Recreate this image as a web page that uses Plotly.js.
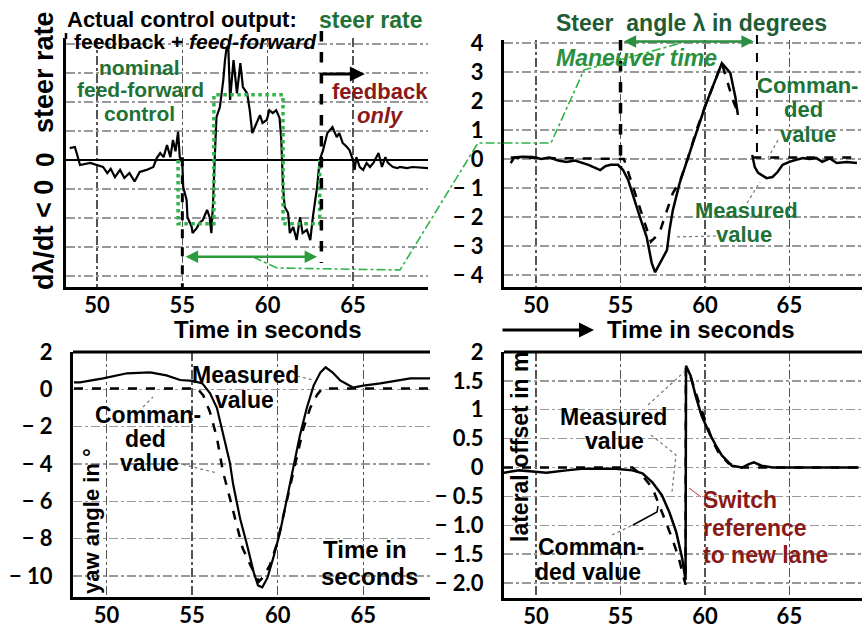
<!DOCTYPE html>
<html><head><meta charset="utf-8">
<script src="https://cdn.plot.ly/plotly-3.0.1.min.js"></script>
<style>html,body{margin:0;padding:0;background:#fff;}#chart{width:862px;height:628px;}</style>
</head><body><div id="chart"></div>
<script>
// ---------- DATA ----------
// Panel 1: steer rate (actual control output) and nominal feed-forward
const t1 = [48.4,48.7,48.85,49.0,49.6,50.0,50.35,50.6,50.8,51.05,51.35,51.6,51.9,52.2,52.5,52.9,53.3,53.5,53.7,53.9,54.1,54.3,54.45,54.6,54.75,54.85,55.0,55.05,55.25,55.3,55.55,55.6,55.85,56.0,56.2,56.45,56.6,56.7,56.8,56.9,57.0,57.2,57.4,57.5,57.6,57.7,57.8,58.0,58.2,58.4,58.55,58.8,58.95,59.1,59.4,59.55,59.7,59.95,60.1,60.3,60.5,60.7,60.8,60.9,61.0,61.2,61.3,61.5,61.7,61.9,62.05,62.3,62.5,62.65,62.9,63.05,63.25,63.5,63.8,64.05,64.2,64.4,64.65,64.8,65.0,65.1,65.2,65.4,65.6,65.8,66.0,66.2,66.5,66.7,66.9,67.05,67.35,67.6,67.75,68.15,68.5,69.0,69.4];
const steerRate = [0.41,0.45,0.15,-0.17,-0.1,-0.17,-0.24,-0.45,-0.3,-0.59,-0.34,-0.62,-0.45,-0.74,-0.41,-0.34,-0.24,0.07,0.24,0.1,0.52,0.1,0.69,0.3,0.97,0.1,-0.1,-0.93,-1.38,-1.97,-2.31,-2.52,-2.34,-2.17,-2.07,-1.72,-1.97,-2.52,-1.48,0.1,1.48,1.83,2.76,3.45,3.9,3.8,2.07,3.45,2.3,3.34,2.52,2.3,1.72,0.93,1.38,1.55,1.28,1.38,1.72,1.62,1.72,1.45,0.69,-0.93,-1.62,-1.83,-2.52,-2.31,-2.76,-1.97,-2.52,-2.41,-2.76,-1.97,-0.93,0,0.34,0.93,1.14,0.79,0.93,0.59,0.45,0.34,0,-0.34,0.1,-0.24,-0.34,-0.1,-0.24,-0.1,0.24,-0.24,0.1,-0.1,-0.24,-0.28,-0.24,-0.28,-0.24,-0.26,-0.28];
const tFF = [54.75,54.75,56.85,56.85,60.9,60.9,63.05,63.05];
const ffRate = [0,-2.2,-2.2,2.25,2.25,-2.2,-2.2,0];

// Panel 2: steer angle (degrees)
const t2m = [48.5,48.7,49.2,49.8,50.3,50.8,51.3,51.8,52.3,52.8,53.1,53.4,53.8,54.1,54.4,54.85,55.15,55.45,55.75,56.15,56.55,56.85,57.05,57.35,57.75,57.9,58.1,58.5,59.0,59.5,60.0,60.5,61.0,61.5,61.8,61.95,null,62.8,62.95,63.15,63.65,64.0,64.3,64.6,65.0,65.4,65.8,66.2,66.6,66.95,67.4,67.8,68.4,69.0];
const steerMeas = [-0.14,0.05,0.08,0.07,0.0,0.05,-0.05,-0.1,-0.05,-0.14,-0.2,-0.28,-0.38,-0.25,-0.2,-0.2,-0.38,-0.72,-1.3,-2.0,-2.69,-3.59,-3.9,-3.59,-3.14,-2.45,-1.76,-0.83,0.05,1.0,1.8,2.55,3.3,2.97,2.14,1.52,null,0.14,-0.28,-0.48,-0.66,-0.62,-0.45,-0.2,-0.1,-0.03,0.03,0.0,0.03,-0.1,0.02,-0.14,-0.1,-0.14];
const t2c = [48.5,55.2,56.8,57.3,58.1,58.5,59.0,59.5,60.0,60.5,61.0,61.3,61.65,61.85,null,62.8,69.0];
const steerCmd = [0.05,0.0,-2.85,-2.55,-1.17,-0.8,0.05,1.0,1.8,2.55,3.3,2.72,2.03,1.75,null,0.05,0.05];

// Panel 3: yaw angle (degrees)
const t3m = [48.1,48.45,49.8,51.2,52.55,53.5,54.3,55.05,55.6,56.05,56.45,56.8,57.2,57.4,57.8,58.2,58.6,58.85,59.1,59.4,59.75,60.15,60.55,60.9,61.3,61.7,62.1,62.5,62.8,63.2,63.65,64.4,65.0,66.0,67.15,67.75,68.9];
const yawMeas = [0.37,0.37,0.59,0.86,0.91,0.75,0.5,0.45,0.32,-0.21,-1.0,-2.3,-3.9,-5.1,-6.9,-8.3,-9.8,-10.5,-10.6,-10.1,-9.0,-7.6,-5.8,-4.1,-2.46,-1.0,0.2,0.91,1.18,0.91,0.48,0.1,0.2,0.32,0.48,0.59,0.59];
const t3c = [48.1,55.3,55.65,56.05,56.45,56.8,57.2,57.6,57.95,58.4,58.9,59.2,59.55,59.95,60.3,60.75,61.15,61.5,61.9,62.3,62.6,68.9];
const yawCmd = [0.05,0.05,-0.32,-1.23,-2.6,-4.4,-5.8,-7.3,-8.5,-9.4,-10.3,-10.0,-9.4,-8.3,-6.9,-5.1,-3.5,-2.1,-1.0,-0.3,0.05,0.05];

// Panel 4: lateral offset (m)
const t4m = [48.1,49.0,49.8,50.6,51.8,52.7,54.7,55.7,56.3,56.9,57.45,57.9,58.3,58.65,58.85,58.88,59.15,59.45,59.8,60.25,60.65,61.0,61.6,62.2,62.6,62.9,63.35,64.0,66.0,69.1];
const latMeas = [-0.09,-0.05,-0.07,-0.09,-0.05,-0.02,-0.02,-0.05,-0.1,-0.26,-0.48,-0.78,-1.12,-1.57,-1.95,1.76,1.59,1.24,0.9,0.6,0.38,0.21,0.03,0.0,0.06,0.09,0.03,0.0,0.0,0.0];
const t4c = [48.1,55.7,56.3,56.9,57.3,57.7,58.05,58.45,58.75,58.85,58.87,59.2,59.65,60.05,60.4,60.8,61.4,62.0,69.1];
const latCmd = [0.0,0.0,-0.14,-0.36,-0.66,-0.95,-1.22,-1.57,-1.91,-2.03,1.72,1.53,1.12,0.78,0.5,0.26,0.07,0.0,0.0];

// Tick labels
const xTicks = [50,55,60,65];
const xTickText = ['50','55','60','65'];
const y2Ticks = [4,3,2,1,0,-1,-2,-3,-4];
const y2Text = ['4','3','2','1','0','− 1','− 2','− 3','− 4'];
const y3Ticks = [2,0,-2,-4,-6,-8,-10];
const y3Text = ['2','0','− 2','− 4','− 6','− 8','− 10'];
const y4Ticks = [2,1.5,1,0.5,0,-0.5,-1,-1.5,-2];
const y4Text = ['2','1.5','1','0.5','0','− 0.5','− 1.0','− 1.5','− 2.0'];

// ---------- LAYOUT HELPERS ----------
const W = 862, H = 628;
const px = v => v / W, py = v => 1 - v / H;
const FONT = 'Liberation Sans, Arial, sans-serif';
const GREEN_T = '#1f7236', GREEN_L = '#2fb34a', RED_T = '#8a1a1a';
const bold = s => '<b>' + s + '</b>';

function tickFont(){ return {family:'Lato, sans-serif', size:22, color:'#000'}; }
function xAx(dom, rng, anchor){
  return {domain:dom, range:rng, anchor:anchor, tickvals:xTicks, ticktext:xTickText.map(bold),
    showline:true, linecolor:'#000', linewidth:3, showgrid:true, gridcolor:'#555', griddash:'dashdot', gridwidth:1.5,
    zeroline:false, ticks:'', ticklabelstandoff:-3, tickfont:tickFont(), fixedrange:true};
}
function yAx(dom, rng, anchor, vals, text){
  return {domain:dom, range:rng, anchor:anchor, tickvals:vals, ticktext:text ? text.map(bold) : undefined,
    showticklabels: !!text, showline:true, linecolor:'#000', linewidth:3, showgrid:true, gridcolor:'#9a9a9a',
    griddash:'dashdot', gridwidth:1.3, zeroline:false, ticks:'', ticklabelstandoff:13,
    tickfont:tickFont(), fixedrange:true};
}

const annotations = [];
function txt(text, x, y, opt){
  opt = opt || {};
  annotations.push({xref:'paper', yref:'paper', x:px(x), y:py(y), text:text, showarrow:false,
    xanchor: opt.xa || 'center', yanchor:'middle', textangle: opt.angle || 0,
    font:{family:FONT, size:opt.size || 22, color:opt.color || '#000'}});
}
function arrowData(xref, yref, x0, y0, x1, y1, color, width, both){
  annotations.push({xref:xref, yref:yref, axref:xref, ayref:yref, x:x1, y:y1, ax:x0, ay:y0, text:'',
    showarrow:true, arrowhead:2, arrowsize:1, arrowwidth:width, arrowcolor:color,
    arrowside: both ? 'end+start' : 'end', standoff:0, startstandoff:0});
}

const shapes = [];
function pline(pts, color, width, dash){
  let d = pts.map((p,i) => (i ? 'L' : 'M') + px(p[0]).toFixed(5) + ',' + py(p[1]).toFixed(5)).join(' ');
  shapes.push({type:'path', xref:'paper', yref:'paper', path:d, line:{color:color, width:width, dash:dash || 'solid'}, layer:'above'});
}
function vline(xref, yref, x, y0, y1, width, dash){
  shapes.push({type:'line', xref:xref, yref:yref, x0:x, x1:x, y0:y0, y1:y1, line:{color:'#000', width:width, dash:dash}});
}

// ---------- Panel 1 text ----------
txt(bold('Actual control output:'), 65, 20, {xa:'left'});
txt(bold('steer rate'), 317, 20, {xa:'left', color:GREEN_T, size:23});
txt(bold('feedback + <i>feed-forward</i>'), 72, 41, {xa:'left', size:21});
txt(bold('nominal'), 139, 67, {color:GREEN_T, size:21});
txt(bold('feed-forward'), 140, 90, {color:GREEN_T, size:21});
txt(bold('control'), 139, 113, {color:GREEN_T, size:21});
txt(bold('feedback'), 380, 91, {color:RED_T});
txt(bold('<i>only</i>'), 380, 115, {color:RED_T});
txt(bold('steer rate'), 44, 72, {angle:-90, size:27});
txt(bold('0'), 45, 160, {angle:-90, size:26});
txt(bold('dλ/dt < 0'), 44, 235, {angle:-90, size:27});
txt(bold('Time in seconds'), 268, 329, {size:24});
arrowData('x','y', 55.1, -3.34, 62.9, -3.34, '#2a9d3a', 2.5, true);
arrowData('x','y', 63.15, 2.97, 65.7, 2.97, '#000', 3, false);
vline('x','y', 55.0, 0.1, -4.38, 3, 'dash');
vline('x','paper', 63.15, py(31), py(263), 3.5, 'dash');
pline([[66,39],[66,33]], '#000', 2.5, 'solid');

// ---------- Panel 2 text ----------
txt(bold('Steer\u00a0\u00a0angle λ in degrees'), 691, 23, {color:'#1f5c34', size:23});
txt(bold('<i>Maneuver time</i>'), 636, 58, {color:'#2a8f3e', size:23});
txt(bold('Comman-'), 807, 86, {color:GREEN_T});
txt(bold('ded'), 803, 110, {color:GREEN_T});
txt(bold('value'), 808, 134, {color:GREEN_T});
txt(bold('Measured'), 746, 210, {color:GREEN_T});
txt(bold('value'), 744, 235, {color:GREEN_T});
txt(bold('Time in seconds'), 701, 329, {size:24});
arrowData('x2','y2', 55.1, 4.05, 62.9, 4.05, '#2a8f3e', 2.5, true);
vline('x2','y2', 55.0, 4.1, -0.3, 3.5, 'dash');
vline('x2','paper', 63.08, py(35), py(153), 2, 'dash');
annotations.push({xref:'paper', yref:'paper', x:px(594), y:py(330), ax:-93, ay:0, text:'', showarrow:true,
  arrowhead:2, arrowsize:1, arrowwidth:3, arrowcolor:'#000', standoff:0});
pline([[716,236],[674,237]], '#777', 1.2, 'dot');
pline([[747,203],[760,182]], '#777', 1.2, 'dot');
pline([[778,140],[768,158]], '#777', 1.2, 'dot');

// ---------- Panel 3 text ----------
txt(bold('Measured'), 245, 375, {size:23});
txt(bold('value'), 244, 400, {size:23});
txt(bold('Comman-'), 148, 415, {size:23});
txt(bold('ded'), 145, 439, {size:23});
txt(bold('value'), 149, 463, {size:23});
txt(bold('Time in'), 365, 549, {size:24});
txt(bold('seconds'), 369, 576, {size:24});
txt(bold('yaw angle in °'), 91, 521, {angle:-90, size:22});
pline([[297,376],[313,380]], '#777', 1.2, 'dot');
pline([[177,463],[217,473]], '#777', 1.2, 'dot');
pline([[143,407],[153,397]], '#777', 1.2, 'dot');
shapes.push({type:'line', xref:'x3 domain', yref:'y3 domain', x0:0, x1:1, y0:1, y1:1, line:{color:'#000', width:3}});

// ---------- Panel 4 text ----------
txt(bold('Measured'), 613, 417, {size:23});
txt(bold('value'), 614, 441, {size:23});
txt(bold('Comman-'), 591, 547, {size:23});
txt(bold('ded value'), 588, 572, {size:23});
txt(bold('Switch'), 701, 500, {xa:'left', color:RED_T, size:23});
txt(bold('reference'), 701, 528, {xa:'left', color:RED_T, size:23});
txt(bold('to new lane'), 701, 555, {xa:'left', color:RED_T, size:23});
txt(bold('lateral offset in m'), 520, 447, {angle:-90, size:23});
pline([[648,405],[684,372]], '#777', 1.2, 'dot');
pline([[651,435],[676,455],[672,492]], '#777', 1.2, 'dot');
pline([[612,535],[633,525]], '#777', 1.2, 'dot');
pline([[633,525],[657,512],[658,506]], '#000', 1.5, 'solid');
pline([[701,497],[689,488]], '#b33', 1, 'solid');
shapes.push({type:'line', xref:'x4 domain', yref:'y4 domain', x0:0, x1:1, y0:1, y1:1, line:{color:'#000', width:3}});

// Maneuver-time connector (dash-dot green across panels)
pline([[253,257],[277,268],[400,270],[478,143],[551,143],[584,70],[681,43]], GREEN_L, 1.6, 'dashdot');

// ---------- TRACES ----------
const blk = (w, dash) => ({color:'#000', width:w, dash:dash || 'solid'});
const traces = [
  {x:t1, y:steerRate, xaxis:'x', yaxis:'y', mode:'lines', line:blk(2.2)},
  {x:tFF, y:ffRate, xaxis:'x', yaxis:'y', mode:'lines', line:{color:GREEN_L, width:3.5, dash:'dot'}},
  {x:t2c, y:steerCmd, xaxis:'x2', yaxis:'y2', mode:'lines', line:blk(2.5,'dash'), connectgaps:false},
  {x:t2m, y:steerMeas, xaxis:'x2', yaxis:'y2', mode:'lines', line:blk(2.5), connectgaps:false},
  {x:t3c, y:yawCmd, xaxis:'x3', yaxis:'y3', mode:'lines', line:blk(2.5,'dash')},
  {x:t3m, y:yawMeas, xaxis:'x3', yaxis:'y3', mode:'lines', line:blk(2.2)},
  {x:t4c, y:latCmd, xaxis:'x4', yaxis:'y4', mode:'lines', line:blk(2.5,'dash')},
  {x:t4m, y:latMeas, xaxis:'x4', yaxis:'y4', mode:'lines', line:blk(2.5)}
];

const y1 = yAx([py(287), py(38)], [-4.38, 4.21], 'x', [-4,-3,-2,-1,0,1,2,3,4], null);
y1.zeroline = true; y1.zerolinecolor = '#000'; y1.zerolinewidth = 2.5;

const layout = {
  width:W, height:H, autosize:false, margin:{l:0, r:0, t:0, b:0},
  paper_bgcolor:'#fff', plot_bgcolor:'#fff', showlegend:false,
  font:{family:FONT, color:'#000'},
  xaxis: xAx([px(66), px(428)], [48.18, 69.4], 'y'),
  yaxis: y1,
  xaxis2: xAx([px(504), 1], [48.1, 69.3], 'y2'),
  yaxis2: yAx([py(287), py(40)], [-4.41, 4.1], 'x2', y2Ticks, y2Text),
  xaxis3: xAx([px(73), px(430)], [48.04, 68.9], 'y3'),
  yaxis3: yAx([py(597), py(352)], [-11.12, 2.0], 'x3', y3Ticks, y3Text),
  xaxis4: xAx([px(504), 1], [48.1, 69.3], 'y4'),
  yaxis4: yAx([py(598), py(352)], [-2.26, 2.0], 'x4', y4Ticks, y4Text),
  annotations: annotations,
  shapes: shapes
};

Plotly.newPlot('chart', traces, layout, {staticPlot:true, displayModeBar:false});
</script>
</body></html>
